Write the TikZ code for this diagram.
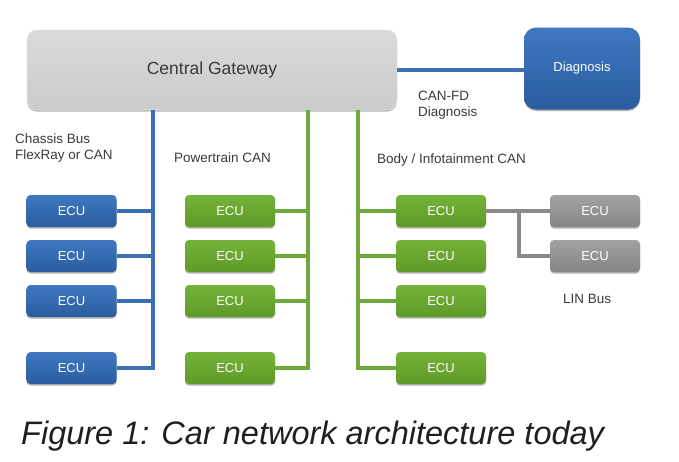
\documentclass[tikz,border=0pt]{standalone}
\usepackage{fontspec}
\setmainfont{Liberation Sans}
\usetikzlibrary{shadows}
\definecolor{bluetop}{HTML}{3F78C2}
\definecolor{bluebot}{HTML}{2A5C9E}
\definecolor{blueline}{HTML}{3D6FB3}
\definecolor{greentop}{HTML}{74B33A}
\definecolor{greenbot}{HTML}{5E9A26}
\definecolor{greenline}{HTML}{6CA83A}
\definecolor{graytop}{HTML}{A2A2A2}
\definecolor{graybot}{HTML}{858585}
\definecolor{grayline}{HTML}{8A8A8A}
\definecolor{gwtop}{HTML}{DADADA}
\definecolor{gwbot}{HTML}{CBCBCB}
\definecolor{labeltext}{HTML}{3A3A3A}
\begin{document}
\begin{tikzpicture}[x=1pt,y=-1pt,
  shad/.style={drop shadow={shadow xshift=0pt, shadow yshift=-1.5pt, opacity=0.3, fill=black}},
  ecu/.style={shad, rounded corners=4pt, minimum width=90pt, minimum height=32pt, inner sep=0pt,
    text=white, font=\fontsize{13}{15}\selectfont},
  blueecu/.style={ecu, top color=bluetop, bottom color=bluebot},
  greenecu/.style={ecu, top color=greentop, bottom color=greenbot},
  grayecu/.style={ecu, top color=graytop, bottom color=graybot},
  bus/.style={line width=3.2pt},
  lbl/.style={anchor=west, inner sep=0pt, text=labeltext, font=\fontsize{13.5}{16}\selectfont, align=left}]
\useasboundingbox (0,0) rectangle (679,461);

% gateway and diagnosis
\node[shad, rounded corners=10pt, minimum width=370pt, minimum height=80pt, inner sep=0pt,
  top color=gwtop, bottom color=gwbot, draw=white!80!gray, line width=0.6pt,
  text=labeltext, font=\fontsize{17.5}{20}\selectfont] (gw) at (212,70) {Central Gateway};
\node[shad, rounded corners=12pt, minimum width=116pt, minimum height=82pt, inner sep=0pt,
  top color=bluetop, bottom color=bluebot, text=white, font=\fontsize{13}{15}\selectfont] (dg) at (582,68.5) {Diagnosis};

% ECUs
\node[blueecu] (b1) at (71.5,211) {ECU};
\node[blueecu] (b2) at (71.5,256) {ECU};
\node[blueecu] (b3) at (71.5,301) {ECU};
\node[blueecu] (b4) at (71.5,368) {ECU};
\node[greenecu] (p1) at (230,211) {ECU};
\node[greenecu] (p2) at (230,256) {ECU};
\node[greenecu] (p3) at (230,301) {ECU};
\node[greenecu] (p4) at (230,368) {ECU};
\node[greenecu] (c1) at (441,211) {ECU};
\node[greenecu] (c2) at (441,256) {ECU};
\node[greenecu] (c3) at (441,301) {ECU};
\node[greenecu] (c4) at (441,368) {ECU};
\node[grayecu] (l1) at (595,211) {ECU};
\node[grayecu] (l2) at (595,256) {ECU};

% bus coordinates
\coordinate (bb) at (153,368);
\coordinate (pb) at (308,368);
\coordinate (cb) at (358,368);
\coordinate (lb) at (519,211);

% chassis bus
\draw[bus, blueline] (gw.south -| bb) -- (bb) -- (b4.east);
\foreach \n in {b1,b2,b3} \draw[bus, blueline] (\n.east) -- (\n.east -| bb);
% powertrain bus
\draw[bus, greenline] (gw.south -| pb) -- (pb) -- (p4.east);
\foreach \n in {p1,p2,p3} \draw[bus, greenline] (\n.east) -- (\n.east -| pb);
% body bus
\draw[bus, greenline] (gw.south -| cb) -- (cb) -- (c4.west);
\foreach \n in {c1,c2,c3} \draw[bus, greenline] (\n.west) -- (\n.west -| cb);
% LIN bus
\draw[bus, grayline] (c1.east) -- (l1.west);
\draw[bus, grayline] (lb) |- (l2.west);
% diagnosis link
\draw[bus, blueline] (gw.east) -- (gw.east -| dg.west);

% labels
\node[lbl] (t1) at (15,148) {Chassis Bus\\FlexRay or CAN};
\node[lbl] (t2) at (174,158) {Powertrain CAN};
\node[lbl] (t3) at (377,160) {Body / Infotainment CAN};
\node[lbl] (t4) at (418,105) {CAN-FD\\Diagnosis};
\node[lbl] (t5) at (563,299) {LIN Bus};

% caption
\node[anchor=base west, inner sep=0pt, text=black!88, font=\fontsize{32.5}{38}\selectfont\itshape] (cap) at (21,444) {Figure 1: Car network architecture today};
\end{tikzpicture}
\end{document}
